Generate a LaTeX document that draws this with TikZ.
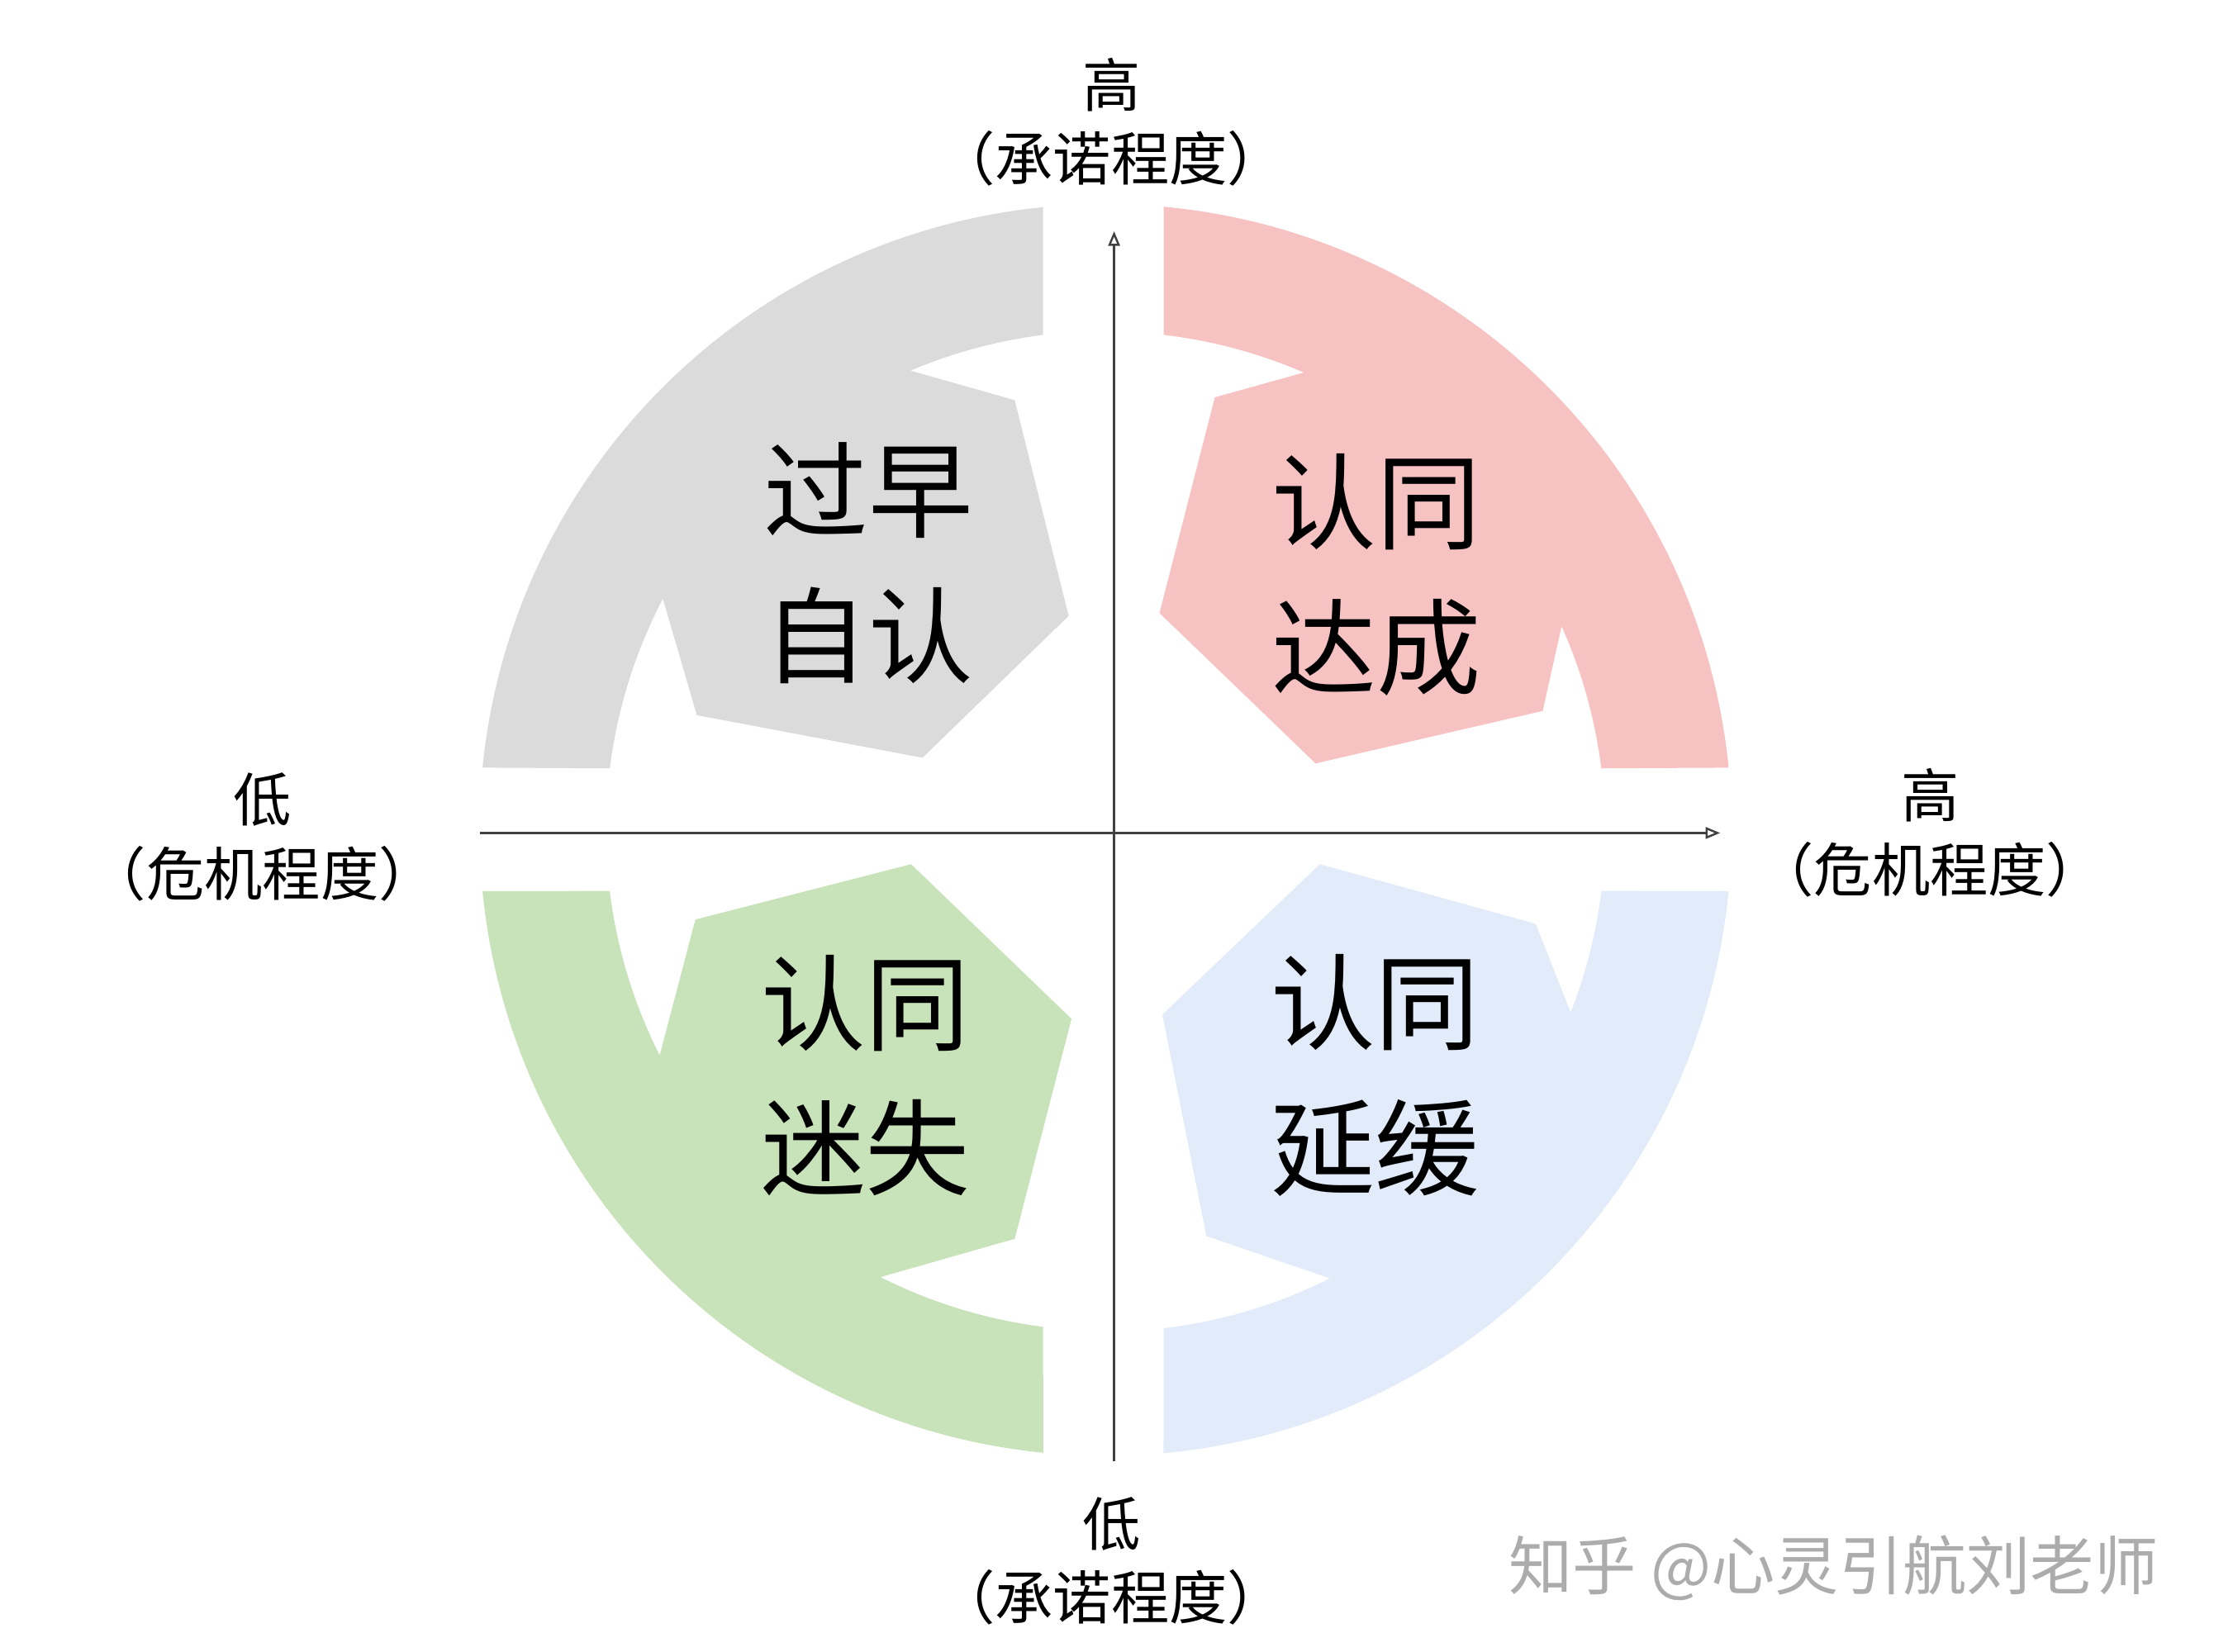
\documentclass[tikz,border=0pt]{standalone}
\usepackage{fontspec}
\usepackage{tikz}
\usetikzlibrary{arrows.meta}
\newfontfamily\cjk{Noto Sans CJK SC}
\definecolor{quadgray}{RGB}{219,219,219}
\definecolor{quadpink}{RGB}{246,194,194}
\definecolor{quadgreen}{RGB}{200,226,186}
\definecolor{quadblue}{RGB}{225,235,249}
\definecolor{markgray}{RGB}{172,172,172}

\begin{document}
\begin{tikzpicture}[x=0.01718cm, y=0.01718cm,
    quadlabel/.style={font=\cjk\fontsize{36}{50}\selectfont, align=center, inner sep=0pt},
    axislabel/.style={font=\cjk\fontsize{20}{25.5}\selectfont, align=center, inner sep=0pt},
    axis/.style={draw=black!75, line width=0.7pt, -{Triangle[open, length=5pt, width=4pt]}}
]
    \useasboundingbox (-779,-579) rectangle (781,585);
    \coordinate (o) at (0,0);

    % four quadrants of the ring
    \fill[quadgray] (-439,44) arc[start angle=174.3, end angle=95.7, radius=441]
        -- (-44,349) arc[start angle=97.2, end angle=113, radius=352]
        -- (-64,303) -- (-26,151) -- (-129,51) -- (-288,81)
        -- (152.4:352) arc[start angle=152.4, end angle=172.9, radius=352] -- cycle;
    \fill[quadpink] (439,44) arc[start angle=5.7, end angle=84.7, radius=441]
        -- (41,349) arc[start angle=83.3, end angle=66.6, radius=352]
        -- (77,305) -- (38,153) -- (148,47) -- (308,84)
        -- (24.1:352) arc[start angle=24.1, end angle=7.1, radius=352] -- cycle;
    \fill[quadgreen] (-439,-43) arc[start angle=185.6, end angle=264.3, radius=441]
        -- (-44,-350) arc[start angle=262.8, end angle=243.2, radius=352]
        -- (-64,-288) -- (-24,-133) -- (-137,-24) -- (-289,-63)
        -- (206.8:352) arc[start angle=206.8, end angle=187, radius=352] -- cycle;
    \fill[quadblue] (439,-43) arc[start angle=-5.6, end angle=-84.7, radius=441]
        -- (41,-351) arc[start angle=-83.3, end angle=-63.3, radius=352]
        -- (71,-286) -- (40,-130) -- (151,-24) -- (303,-66)
        -- (-21.4:352) arc[start angle=-21.4, end angle=-7, radius=352] -- cycle;

    % axes
    \coordinate (xstart) at (-441,-2);
    \coordinate (xend) at (433,-2);
    \coordinate (ystart) at (6,-445);
    \coordinate (yend) at (6,422);
    \draw[axis] (xstart) -- (xend);
    \draw[axis] (ystart) -- (yend);

    \node[quadlabel] (early) at (-167,188) {过早\\自认};
    \node[quadlabel] (achieve) at (191,180) {认同\\达成};
    \node[quadlabel] (diffuse) at (-169,-173) {认同\\迷失};
    \node[quadlabel] (delay) at (190,-173) {认同\\延缓};

    \node[axislabel] (ytop) at (4,499) {高\\（承诺程度）};
    \node[axislabel] (ybottom) at (4,-515) {低\\（承诺程度）};
    \node[axislabel] (xleft) at (-594,-5) {低\\（危机程度）};
    \node[axislabel] (xright) at (581,-2) {高\\（危机程度）};

    \node[font=\cjk\fontsize{22}{26}\selectfont, text=markgray, anchor=east] (mark) at (749,-520) {知乎 @心灵引航刘老师};
\end{tikzpicture}
\end{document}
